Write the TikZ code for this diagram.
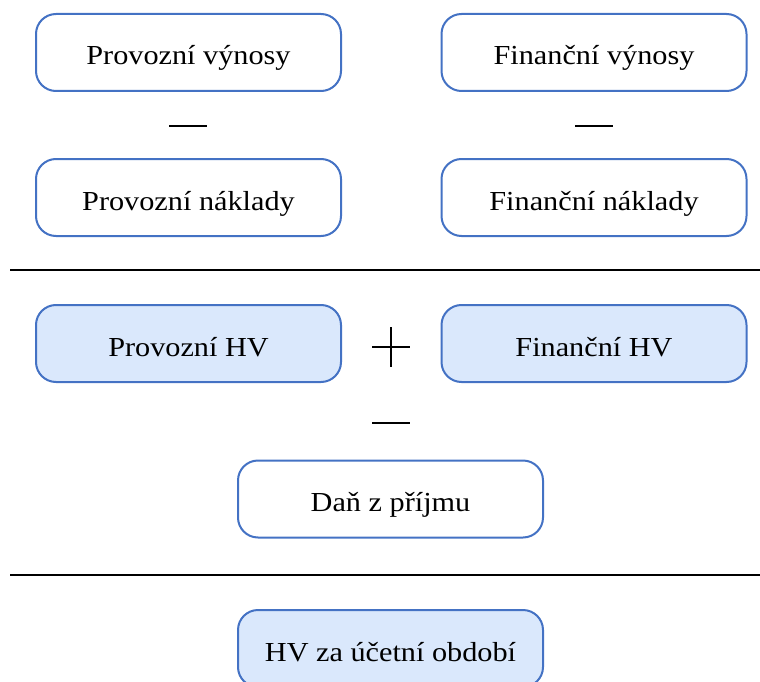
\documentclass[tikz,border=0pt]{standalone}
\usepackage{fontspec}
\setmainfont{Liberation Serif}
\definecolor{boxblue}{RGB}{68,114,196}
\definecolor{boxfill}{RGB}{218,232,252}
\newcommand{\wtxt}[1]{\scalebox{1.1}[1]{#1}}
\tikzset{
  box/.style={draw=boxblue, line width=2pt, rounded corners=20pt, minimum width=305pt, minimum height=77pt, inner sep=0pt, text height=25pt, text depth=0pt, font=\fontsize{27.5}{32}\selectfont, text=black},
  hvbox/.style={box, fill=boxfill},
  wbox/.style={box, fill=white},
  sep/.style={line width=2.5pt, black},
  sign/.style={line width=2pt, black}
}
\begin{document}
\begin{tikzpicture}[x=1pt, y=-1pt]
\useasboundingbox (0,0) rectangle (760,682);
\node[wbox] (pv) at (188.5,52.5) {\wtxt{Provozní výnosy}};
\node[wbox] (fv) at (594,52.5) {\wtxt{Finanční výnosy}};
\node[wbox] (pn) at (188.5,197.5) {\wtxt{Provozní náklady}};
\node[wbox] (fn) at (594,197.5) {\wtxt{Finanční náklady}};
\draw[sign] (169,126) -- (207,126);
\draw[sign] (575,126) -- (613,126);
\draw[sep] (10,270) -- (760,270);
\node[hvbox] (phv) at (188.5,343.5) {\wtxt{Provozní HV}};
\node[hvbox] (fhv) at (594,343.5) {\wtxt{Finanční HV}};
\draw[sign] (372,347) -- (410,347);
\draw[sign] (391,327) -- (391,367);
\draw[sign] (372,423) -- (410,423);
\node[wbox] (dan) at (390.5,499) {\wtxt{Daň z příjmu}};
\draw[sep] (10,575) -- (760,575);
\node[hvbox] (hv) at (390.5,648.5) {\wtxt{HV za účetní období}};
\end{tikzpicture}
\end{document}
